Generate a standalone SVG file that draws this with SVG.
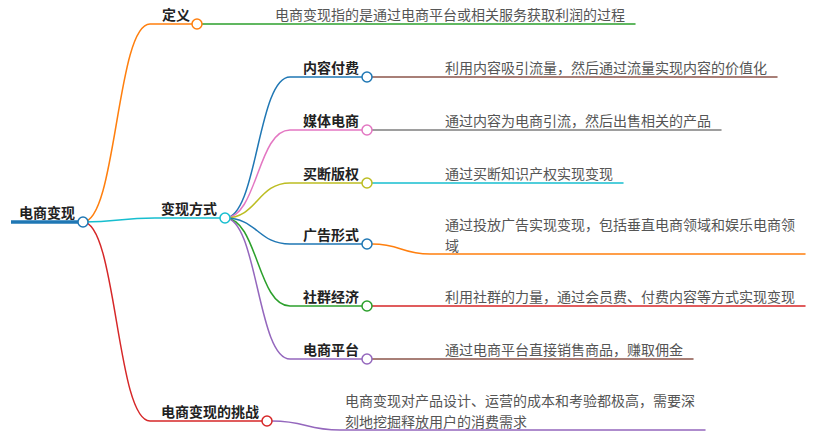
<svg xmlns="http://www.w3.org/2000/svg" width="820" height="439" viewBox="0 0 820 439">
<style>
.lbl{font-family:"Noto Sans CJK SC","Liberation Sans",sans-serif;font-size:14px;font-weight:700;fill:#222}
.dtl{font-family:"Noto Sans CJK SC","Liberation Sans",sans-serif;font-size:14px;font-weight:400;fill:#555}
.c{fill:none;stroke-width:1.5;stroke-linecap:round}
.dot{fill:#fff;stroke-width:1.5}
</style>
<rect width="820" height="439" fill="#fff"/>
<g id="connectors">
<path d="M11,222 L83,222" fill="none" stroke="#1f77b4" stroke-width="3.5"/>
<path class="c" stroke="#ff7f0e" d="M83,222 C116.5,222 116.5,24 150,24 L197,24"/>
<path class="c" stroke="#17becf" d="M83,222 C119,222 119,218 155,218 L225,218"/>
<path class="c" stroke="#d62728" d="M83,222 C116.5,222 116.5,421 150,421 L267,421"/>
<path class="c" stroke="#2ca02c" d="M202,24 L635,24"/>
<path class="c" stroke="#1f77b4" d="M225,218 C257.5,218 257.5,77 290,77 L367,77"/>
<path class="c" stroke="#e377c2" d="M225,218 C257.5,218 257.5,130 290,130 L367,130"/>
<path class="c" stroke="#bcbd22" d="M225,218 C257.5,218 257.5,183 290,183 L367,183"/>
<path class="c" stroke="#1f77b4" d="M225,218 C257.5,218 257.5,244 290,244 L367,244"/>
<path class="c" stroke="#2ca02c" d="M225,218 C257.5,218 257.5,306 290,306 L367,306"/>
<path class="c" stroke="#9467bd" d="M225,218 C257.5,218 257.5,359 290,359 L367,359"/>
<path class="c" stroke="#8c564b" d="M372,77 L777,77"/>
<path class="c" stroke="#7f7f7f" d="M372,130 L721,130"/>
<path class="c" stroke="#17becf" d="M372,183 L623,183"/>
<path class="c" stroke="#ff7f0e" d="M372,244 C401,244 401,254 430,254 L805,254"/>
<path class="c" stroke="#d62728" d="M372,306 L805,306"/>
<path class="c" stroke="#8c564b" d="M372,359 L693,359"/>
<path class="c" stroke="#9467bd" d="M272,421 C306,421 306,430 340,430 L705,430"/>
</g>
<g id="root">
<text class="lbl" x="19" y="218">电商变现</text>
<circle class="dot" cx="83" cy="222" r="5" stroke="#1f77b4"/>
</g>
<g id="n-dingyi">
<text class="lbl" x="162" y="20">定义</text>
<circle class="dot" cx="197" cy="24" r="5" stroke="#ff7f0e"/>
<text class="dtl" x="275" y="19.5">电商变现指的是通过电商平台或相关服务获取利润的过程</text>
</g>
<g id="n-fangshi">
<text class="lbl" x="161" y="214">变现方式</text>
<circle class="dot" cx="225" cy="218" r="5" stroke="#17becf"/>
</g>
<g id="n-neirong">
<text class="lbl" x="303" y="73">内容付费</text>
<circle class="dot" cx="367" cy="77" r="5" stroke="#1f77b4"/>
<text class="dtl" x="445" y="72.5">利用内容吸引流量，然后通过流量实现内容的价值化</text>
</g>
<g id="n-meiti">
<text class="lbl" x="303" y="126">媒体电商</text>
<circle class="dot" cx="367" cy="130" r="5" stroke="#e377c2"/>
<text class="dtl" x="445" y="125.5">通过内容为电商引流，然后出售相关的产品</text>
</g>
<g id="n-maiduan">
<text class="lbl" x="303" y="179">买断版权</text>
<circle class="dot" cx="367" cy="183" r="5" stroke="#bcbd22"/>
<text class="dtl" x="445" y="178.5">通过买断知识产权实现变现</text>
</g>
<g id="n-guanggao">
<text class="lbl" x="303" y="240">广告形式</text>
<circle class="dot" cx="367" cy="244" r="5" stroke="#1f77b4"/>
<text class="dtl" x="445" y="230">通过投放广告实现变现，包括垂直电商领域和娱乐电商领</text>
<text class="dtl" x="445" y="250.5">域</text>
</g>
<g id="n-shequn">
<text class="lbl" x="303" y="302">社群经济</text>
<circle class="dot" cx="367" cy="306" r="5" stroke="#2ca02c"/>
<text class="dtl" x="445" y="301.5">利用社群的力量，通过会员费、付费内容等方式实现变现</text>
</g>
<g id="n-pingtai">
<text class="lbl" x="303" y="355">电商平台</text>
<circle class="dot" cx="367" cy="359" r="5" stroke="#9467bd"/>
<text class="dtl" x="445" y="354.5">通过电商平台直接销售商品，赚取佣金</text>
</g>
<g id="n-tiaozhan">
<text class="lbl" x="161" y="417">电商变现的挑战</text>
<circle class="dot" cx="267" cy="421" r="5" stroke="#d62728"/>
<text class="dtl" x="345" y="406">电商变现对产品设计、运营的成本和考验都极高，需要深</text>
<text class="dtl" x="345" y="426.5">刻地挖掘释放用户的消费需求</text>
</g>
</svg>
